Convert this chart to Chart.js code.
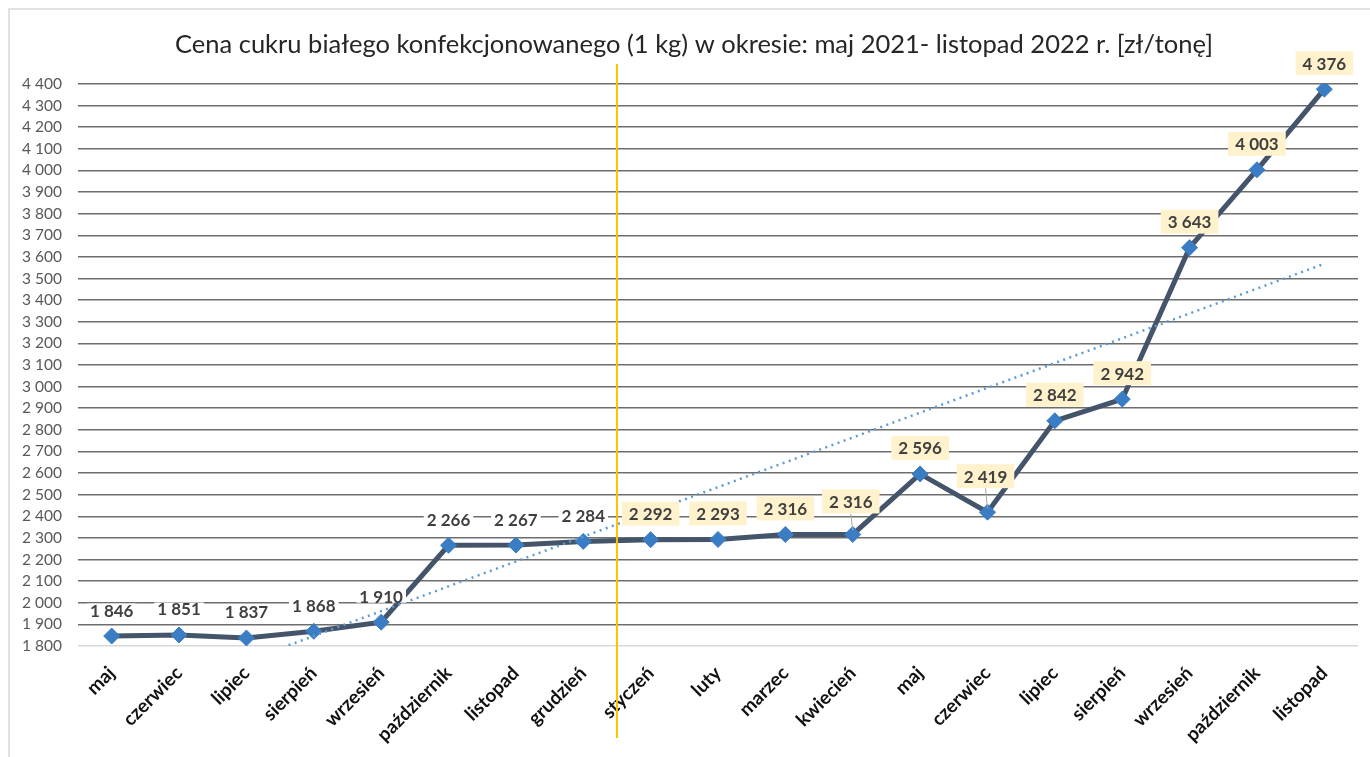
<!DOCTYPE html>
<html><head><meta charset="utf-8">
<script src="https://cdn.jsdelivr.net/npm/chart.js@4/dist/chart.umd.min.js"></script>
<style>html,body{margin:0;padding:0;background:#fff}#wrap{width:1370px;height:757px}</style>
</head><body><div id="wrap"><canvas id="c" width="1370" height="757"></canvas></div>
<script>
const titleText = "Cena cukru białego konfekcjonowanego (1 kg) w okresie: maj 2021- listopad 2022 r. [zł/tonę]";
const months = ["maj","czerwiec","lipiec","sierpień","wrzesień","październik","listopad","grudzień",
  "styczeń","luty","marzec","kwiecień","maj","czerwiec","lipiec","sierpień","wrzesień","październik","listopad"];
const prices = [1846,1851,1837,1868,1910,2266,2267,2284,2292,2293,2316,2316,2596,2419,2842,2942,3643,4003,4376];
const firstIndex2022 = 8;
const yMin = 1800, yMax = 4400, yStep = 100;

// linear trend (least squares) of the price series, as Excel's linear trendline
function linearTrend(vals){
  const n = vals.length; let sx=0, sy=0, sxy=0, sxx=0;
  vals.forEach((v,i)=>{sx+=i;sy+=v;sxy+=i*v;sxx+=i*i;});
  const b=(n*sxy-sx*sy)/(n*sxx-sx*sx), a=(sy-b*sx)/n;
  return vals.map((v,i)=>a+b*i);
}
const trend = linearTrend(prices);

const fmt = v => String(Math.round(v)).replace(/\B(?=(\d{3})+(?!\d))/g,' ');
const FONT = "Lato, 'Open Sans', sans-serif";

const labelLift = prices.map((v,i)=> i===11 ? 33 : (i===13 ? 36 : 26));
const labelShift = prices.map((v,i)=> (i===11||i===13) ? -2 : 0);

const deco = {
  id:'deco',
  beforeDraw(chart){
    const c = chart.ctx;
    c.save();
    c.fillStyle='#fff'; c.fillRect(0,0,chart.width,chart.height);
    c.strokeStyle='#d9d9d9'; c.lineWidth=1.5;
    c.beginPath(); c.moveTo(9,chart.height); c.lineTo(9,9); c.lineTo(chart.width,9); c.stroke();
    c.fillStyle='#262626'; c.font="25.5px "+FONT; c.textAlign='center'; c.textBaseline='middle';
    c.fillText(titleText, 694, 45);
    c.restore();
  },
  afterDatasetsDraw(chart){
    const c = chart.ctx, xs = chart.scales.x, ys = chart.scales.y;
    c.save();
    // year separator
    const xs0 = (xs.getPixelForValue(firstIndex2022-1)+xs.getPixelForValue(firstIndex2022))/2;
    c.strokeStyle='#FFC000'; c.lineWidth=2;
    c.beginPath(); c.moveTo(xs0,64); c.lineTo(xs0,738); c.stroke();
    // data labels
    c.font="bold 17px "+FONT; c.textAlign='center'; c.textBaseline='middle';
    prices.forEach((v,i)=>{
      const px = xs.getPixelForValue(i), py = ys.getPixelForValue(v);
      const lx = px + labelShift[i], ly = py - labelLift[i];
      const t = fmt(v); const tw = c.measureText(t).width;
      const hi = i>=firstIndex2022;
      const w = hi ? tw + 14 : tw + 6, h = hi ? 24 : 13;
      if (labelLift[i] > 30){
        c.strokeStyle='#a6a6a6'; c.lineWidth=1;
        c.beginPath(); c.moveTo(lx, ly+h/2); c.lineTo(px, py-4); c.stroke();
      }
      c.fillStyle = hi ? '#FFF2CC' : '#ffffff';
      c.fillRect(lx-w/2, ly-h/2, w, h);
      c.fillStyle='#404040';
      c.fillText(t, lx, ly+1);
    });
    c.restore();
  }
};

new Chart(document.getElementById('c'), {
  type:'line',
  data:{
    labels: months,
    datasets:[
      {data: trend, borderColor:'#5B9BD5', borderWidth:2.5, borderDash:[2,4.5], pointRadius:0, fill:false, order:0, clip:0},
      {data: prices, borderColor:'#44546A', borderWidth:5, pointStyle:'rectRot', pointRadius:8,
       pointBackgroundColor:'#3A7DC4', pointBorderColor:'#3A7DC4', pointBorderWidth:1, tension:0, fill:false, order:1}
    ]
  },
  options:{
    responsive:false, animation:false, devicePixelRatio:1,
    layout:{padding:{top:84,right:12,left:0,bottom:0}},
    plugins:{legend:{display:false}, tooltip:{enabled:false}, title:{display:false}},
    scales:{
      x:{type:'category', offset:true, grid:{display:false}, border:{display:false},
         ticks:{minRotation:45, maxRotation:45, autoSkip:false, padding:8, color:'#111111', font:{family:FONT,size:19,weight:'bold'}},
         afterFit(s){ s.height = 111; }},
      y:{min:yMin, max:yMax, border:{display:false},
         grid:{drawTicks:false, lineWidth:1.5, color:ctx => ctx.tick && ctx.tick.value===yMin ? '#d9d9d9' : '#6e6e6e'},
         ticks:{stepSize:yStep, padding:16, color:'#595959', font:{family:FONT,size:15.5}, callback:v=>fmt(v)},
         afterFit(s){ s.width = 78; }}
    }
  },
  plugins:[deco]
});
</script></body></html>
